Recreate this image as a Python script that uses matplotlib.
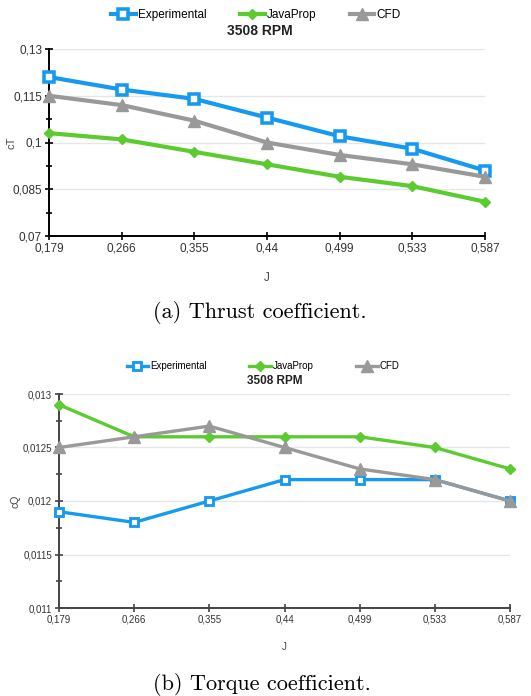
import matplotlib
matplotlib.use("Agg")
import matplotlib.pyplot as plt
from matplotlib.ticker import FuncFormatter, FixedLocator

# advance ratios (category labels on x)
j_labels = ["0,179", "0,266", "0,355", "0,44", "0,499", "0,533", "0,587"]

# thrust coefficient cT
ct_exp = [0.121, 0.117, 0.114, 0.108, 0.102, 0.098, 0.091]
ct_jp = [0.103, 0.101, 0.097, 0.093, 0.089, 0.086, 0.081]
ct_cfd = [0.115, 0.112, 0.107, 0.100, 0.096, 0.093, 0.089]
ct_ticks = [0.07, 0.085, 0.1, 0.115, 0.13]

# torque coefficient cQ
cq_exp = [0.0119, 0.0118, 0.0120, 0.0122, 0.0122, 0.0122, 0.0120]
cq_jp = [0.0129, 0.0126, 0.0126, 0.0126, 0.0126, 0.0125, 0.0123]
cq_cfd = [0.0125, 0.0126, 0.0127, 0.0125, 0.0123, 0.0122, 0.0120]
cq_ticks = [0.011, 0.0115, 0.012, 0.0125, 0.013]

blue = "#1699F0"
green = "#5CCB2F"
grey = "#999999"
sans = "Liberation Sans"

W, H = 531, 696
fig = plt.figure(figsize=(W / 100, H / 100), dpi=100)


def px_axes(l, t, r, b):
    return fig.add_axes([l / W, 1 - b / H, (r - l) / W, (b - t) / H])


def comma(v, pos):
    return ("%g" % round(v, 6)).replace(".", ",")


def draw(ax, exp, jp, cfd, ticks, lw, ms, tick_fs, spine_col):
    x = range(len(j_labels))
    l1, = ax.plot(x, exp, color=blue, lw=lw, marker="s", ms=ms, mfc="white",
                  mec=blue, mew=lw * 0.85, clip_on=False, zorder=3)
    l2, = ax.plot(x, jp, color=green, lw=lw, marker="D", ms=ms * 0.85,
                  mfc=green, mec=green, clip_on=False, zorder=3)
    l3, = ax.plot(x, cfd, color=grey, lw=lw, marker="^", ms=ms * 1.35,
                  mfc=grey, mec=grey, clip_on=False, zorder=4)
    ax.set_xlim(0, len(j_labels) - 1)
    ax.set_ylim(ticks[0], ticks[-1])
    ax.set_xticks(list(x))
    ax.set_xticklabels(j_labels, fontsize=tick_fs, family=sans, color="#333333")
    ax.yaxis.set_major_locator(FixedLocator(ticks))
    mids = [(a + b) / 2 for a, b in zip(ticks[:-1], ticks[1:])]
    ax.yaxis.set_minor_locator(FixedLocator(mids))
    ax.yaxis.set_major_formatter(FuncFormatter(comma))
    for lab in ax.get_yticklabels():
        lab.set_family(sans)
    ax.tick_params(axis="y", labelsize=tick_fs, labelcolor="#333333")
    ax.tick_params(which="major", direction="inout", length=6, width=1.2,
                   color=spine_col, pad=2)
    ax.tick_params(which="minor", direction="inout", length=4, width=1.2,
                   color=spine_col)
    ax.grid(axis="y", which="major", color="#e6e6e6", lw=1)
    ax.set_axisbelow(True)
    for s in ["top", "right"]:
        ax.spines[s].set_visible(False)
    for s in ["left", "bottom"]:
        ax.spines[s].set_color(spine_col)
        ax.spines[s].set_linewidth(1.4)
    return [l1, l2, l3]


# (a) thrust
ax1 = px_axes(49, 49, 485, 236)
h = draw(ax1, ct_exp, ct_jp, ct_cfd, ct_ticks, 3, 6.5, 8.5, "black")
ax1.set_xlabel("J", fontsize=8.5, family=sans, color="#444444", labelpad=12)
ax1.set_ylabel("cT", fontsize=8, family=sans, color="#444444")
ax1.yaxis.set_label_coords(-0.074, 0.5)
fig.legend(h, ["Experimental", "JavaProp", "CFD"], loc="center",
           bbox_to_anchor=(256 / W, 1 - 15 / H), ncol=3, frameon=False,
           prop={"family": sans, "size": 8.5}, handlelength=2.1,
           handletextpad=0.2, columnspacing=2.8)
fig.text(260 / W, 1 - 31 / H, "3508 RPM", ha="center", va="center",
         fontsize=10, fontweight="bold", family=sans, color="#222222")
fig.text(260 / W, 1 - 312 / H, "(a) Thrust coefficient.", ha="center",
         va="center", fontsize=16, family="cmr10")

# (b) torque
ax2 = px_axes(59, 394, 510, 608)
h = draw(ax2, cq_exp, cq_jp, cq_cfd, cq_ticks, 2.4, 6, 7, "#444444")
ax2.set_xlabel("J", fontsize=7, family=sans, color="#444444", labelpad=12)
ax2.set_ylabel("cQ", fontsize=7.5, family=sans, color="#444444")
ax2.yaxis.set_label_coords(-0.085, 0.5)
fig.legend(h, ["Experimental", "JavaProp", "CFD"], loc="center",
           bbox_to_anchor=(263 / W, 1 - 366 / H), ncol=3, frameon=False,
           prop={"family": sans, "size": 7}, handlelength=2.2,
           handletextpad=0.2, columnspacing=4.4)
fig.text(275 / W, 1 - 381 / H, "3508 RPM", ha="center", va="center",
         fontsize=8.5, fontweight="bold", family=sans, color="#222222")
fig.text(262 / W, 1 - 684 / H, "(b) Torque coefficient.", ha="center",
         va="center", fontsize=16, family="cmr10")

fig.savefig("out.png", dpi=100)
